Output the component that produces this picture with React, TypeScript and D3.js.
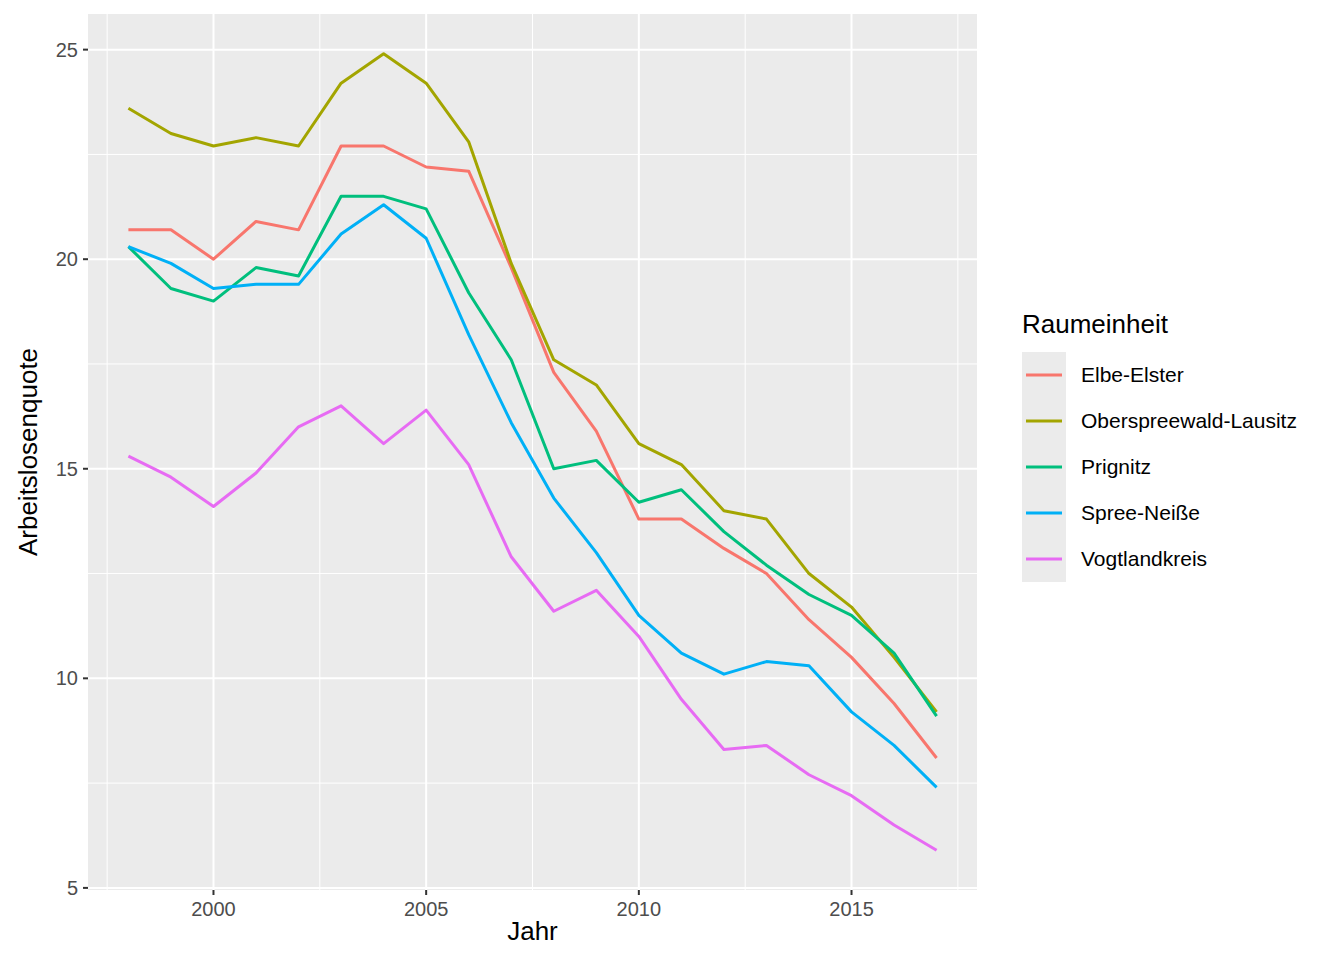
import React from "react";
import * as d3 from "d3";

const years = d3.range(1998, 2018);
const seriesNames = ["Elbe-Elster", "Oberspreewald-Lausitz", "Prignitz", "Spree-Neiße", "Vogtlandkreis"];
const colors = ["#F8766D", "#A3A500", "#00BF7D", "#00B0F6", "#E76BF3"];
const elbeElster = [20.7, 20.7, 20.0, 20.9, 20.7, 22.7, 22.7, 22.2, 22.1, 19.8, 17.3, 15.9, 13.8, 13.8, 13.1, 12.5, 11.4, 10.5, 9.4, 8.1];
const osl = [23.6, 23.0, 22.7, 22.9, 22.7, 24.2, 24.9, 24.2, 22.8, 19.9, 17.6, 17.0, 15.6, 15.1, 14.0, 13.8, 12.5, 11.7, 10.5, 9.2];
const prignitz = [20.3, 19.3, 19.0, 19.8, 19.6, 21.5, 21.5, 21.2, 19.2, 17.6, 15.0, 15.2, 14.2, 14.5, 13.5, 12.7, 12.0, 11.5, 10.6, 9.1];
const spreeNeisse = [20.3, 19.9, 19.3, 19.4, 19.4, 20.6, 21.3, 20.5, 18.2, 16.1, 14.3, 13.0, 11.5, 10.6, 10.1, 10.4, 10.3, 9.2, 8.4, 7.4];
const vogtland = [15.3, 14.8, 14.1, 14.9, 16.0, 16.5, 15.6, 16.4, 15.1, 12.9, 11.6, 12.1, 11.0, 9.5, 8.3, 8.4, 7.7, 7.2, 6.5, 5.9];
const allSeries = [elbeElster, osl, prignitz, spreeNeisse, vogtland];
const xTicks = [2000, 2005, 2010, 2015];
const xMinor = [1997.5, 2002.5, 2007.5, 2012.5, 2017.5];
const yTicks = [5, 10, 15, 20, 25];
const yMinor = [7.5, 12.5, 17.5, 22.5];

export default function App() {
  const L = 88, R = 977, T = 14, B = 890;
  const x = d3.scaleLinear().domain([1997.05, 2017.95]).range([L, R]);
  const y = d3.scaleLinear().domain([4.95, 25.85]).range([B, T]);
  const line = d3.line<number>().x((_, i) => x(years[i])).y(v => y(v));
  const font = "Arial, 'Liberation Sans', sans-serif";
  return (
    <svg width={1344} height={960} style={{ position: "absolute", left: 0, top: 0, fontFamily: font }}>
      <rect width={1344} height={960} fill="white" />
      <rect x={L} y={T} width={R - L} height={B - T} fill="#EBEBEB" />
      {yMinor.map(v => <line key={"ym" + v} x1={L} x2={R} y1={y(v)} y2={y(v)} stroke="white" strokeWidth={1} />)}
      {xMinor.map(v => <line key={"xm" + v} y1={T} y2={B} x1={x(v)} x2={x(v)} stroke="white" strokeWidth={1} />)}
      {yTicks.map(v => <line key={"y" + v} x1={L} x2={R} y1={y(v)} y2={y(v)} stroke="white" strokeWidth={2} />)}
      {xTicks.map(v => <line key={"x" + v} y1={T} y2={B} x1={x(v)} x2={x(v)} stroke="white" strokeWidth={2} />)}
      {allSeries.map((s, i) => <path key={i} d={line(s) || ""} fill="none" stroke={colors[i]} strokeWidth={3} strokeLinejoin="round" />)}
      {yTicks.map(v => (
        <g key={"yt" + v}>
          <line x1={L - 5} x2={L} y1={y(v)} y2={y(v)} stroke="#333" strokeWidth={2} />
          <text x={L - 10} y={y(v)} dy="0.35em" textAnchor="end" fontSize={20} fill="#4D4D4D">{v}</text>
        </g>
      ))}
      {xTicks.map(v => (
        <g key={"xt" + v}>
          <line y1={B} y2={B + 5} x1={x(v)} x2={x(v)} stroke="#333" strokeWidth={2} />
          <text x={x(v)} y={B + 26} textAnchor="middle" fontSize={20} fill="#4D4D4D">{v}</text>
        </g>
      ))}
      <text x={(L + R) / 2} y={940} textAnchor="middle" fontSize={26}>Jahr</text>
      <text transform={`translate(37,${(T + B) / 2}) rotate(-90)`} textAnchor="middle" fontSize={26}>Arbeitslosenquote</text>
      <text x={1022} y={333} fontSize={26}>Raumeinheit</text>
      {seriesNames.map((n, i) => (
        <g key={n}>
          <rect x={1022} y={352 + i * 46} width={44} height={46} fill="#EBEBEB" />
          <line x1={1026} x2={1062} y1={375 + i * 46} y2={375 + i * 46} stroke={colors[i]} strokeWidth={3} />
          <text x={1081} y={375 + i * 46} dy="0.35em" fontSize={21}>{n}</text>
        </g>
      ))}
    </svg>
  );
}
